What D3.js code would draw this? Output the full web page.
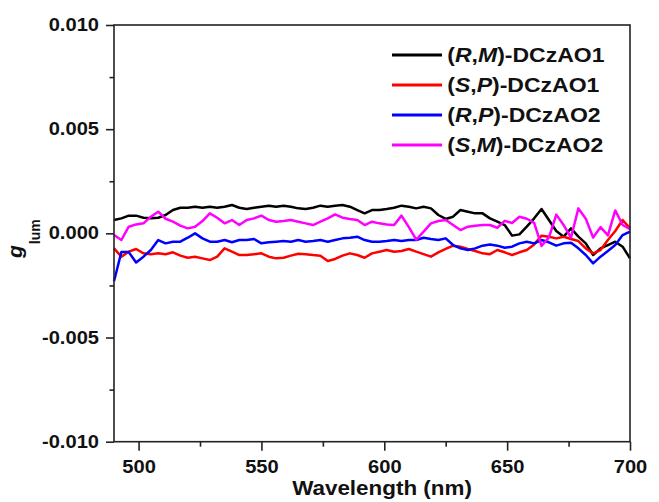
<html>
<head>
  <meta charset="UTF-8">
  <title>g_lum vs wavelength</title>
  <script src="https://d3js.org/d3.v7.min.js"></script>
  <style>
    body { margin: 0; background: white; }
    text { font-family: "Liberation Sans", Arial, sans-serif; font-weight: bold; fill: #111; }
  </style>
</head>
<body>
<svg></svg>
<script>

    // Data, wavelength in nm, 3 nm steps
    const wavelength = [490, 493, 496, 499, 502, 505, 508, 511, 514, 517, 520, 523, 526, 529, 532, 535, 538, 541,
                        544, 547, 550, 553, 556, 559, 562, 565, 568, 571, 574, 577, 580, 583, 586, 589, 592, 595,
                        598, 601, 604, 607, 610, 613, 616, 619, 622, 625, 628, 631, 634, 637, 640, 643, 646, 649,
                        652, 655, 658, 661, 664, 667, 670, 673, 676, 679, 682, 685, 688, 691, 694, 697, 700];

    const rmDCzAO1 = [0.00064, 0.00072, 0.00085, 0.00085, 0.00075, 0.00072, 0.00075, 0.00088, 0.00112, 0.00123, 0.00123, 0.00128, 0.00123, 0.00128, 0.00123, 0.00128, 0.00136, 0.00123,
                      0.00117, 0.00123, 0.00128, 0.00133, 0.00128, 0.00133, 0.00128, 0.0012, 0.00117, 0.00123, 0.00133, 0.00128, 0.00133, 0.00136, 0.00128, 0.00112, 0.00096, 0.00112,
                      0.00112, 0.00117, 0.00123, 0.00133, 0.00128, 0.0012, 0.00128, 0.0012, 0.00088, 0.00069, 0.0008, 0.00112, 0.00104, 0.00096, 0.00096, 0.00072, 0.00056, 0.0004,
                      -0.00011, -0.00005, 0.00032, 0.00072, 0.00117, 0.00064, 0.00011, -0.00016, 0.00024, -0.00016, -0.00048, -0.00104, -0.00072, -0.00056, -0.0004, -0.00064, -0.0012];

    const spDCzAO1 = [-0.00072, -0.00112, -0.00088, -0.00075, -0.00096, -0.001, -0.00096, -0.001, -0.00091, -0.00107, -0.00117, -0.00112, -0.0012, -0.00128, -0.00112, -0.00072, -0.00088, -0.00104,
                      -0.00104, -0.001, -0.00096, -0.00112, -0.0012, -0.00117, -0.00107, -0.00098, -0.001, -0.00104, -0.00107, -0.00133, -0.00123, -0.00107, -0.00096, -0.00104, -0.00117, -0.00096,
                      -0.00088, -0.0008, -0.00088, -0.00085, -0.00075, -0.00088, -0.001, -0.00112, -0.00091, -0.00075, -0.00059, -0.00064, -0.00075, -0.00085, -0.00096, -0.001, -0.0008, -0.00091,
                      -0.00104, -0.00091, -0.0008, -0.00053, -0.00011, -0.00016, -0.00024, -0.00016, -0.00027, -0.00037, -0.00072, -0.00096, -0.0008, -0.00032, 0.00011, 0.00064, 0.00024];

    const rpDCzAO2 = [-0.0023, -0.0009, -0.0009, -0.0014, -0.00112, -0.0008, -0.00032, -0.00048, -0.0004, -0.0004, -0.00021, 0, -0.00024, -0.0004, -0.0004, -0.00032, -0.00043, -0.00032,
                      -0.00032, -0.00027, -0.00048, -0.00043, -0.0004, -0.00037, -0.0004, -0.00032, -0.0004, -0.00037, -0.00032, -0.0004, -0.00032, -0.00024, -0.00021, -0.00016, -0.00032, -0.0004,
                      -0.0004, -0.00037, -0.00032, -0.00037, -0.00032, -0.00032, -0.00021, -0.00027, -0.00032, -0.00024, -0.00056, -0.00072, -0.0008, -0.00072, -0.00059, -0.00053, -0.00059, -0.00069,
                      -0.00064, -0.00048, -0.0004, -0.00048, -0.00032, -0.00043, -0.00059, -0.00048, -0.00045, -0.00072, -0.00104, -0.00144, -0.00112, -0.00085, -0.00056, -0.00008, 0.00008];

    const smDCzAO2 = [-0.00008, -0.00032, 0.00032, 0.00043, 0.00048, 0.0008, 0.00104, 0.0007, 0.00056, 0.00037, 0.00024, 0.00032, 0.00059, 0.00096, 0.00075, 0.00048, 0.00064, 0.0004,
                      0.00064, 0.00072, 0.00085, 0.00064, 0.00056, 0.00059, 0.00064, 0.00056, 0.00048, 0.0004, 0.00056, 0.00072, 0.00091, 0.00075, 0.00069, 0.00064, 0.0004, 0.00056,
                      0.00048, 0.00043, 0.0004, 0.00085, 0.0003, -0.0003, 0.00008, 0.00048, 0.00059, 0.00064, 0.0004, 0.00016, 0.00032, 0.00037, 0.0004, 0.0004, 0.00027, 0.0006,
                      0.0005, 0.0008, 0.0007, 0.0005, -0.0006, -0.0002, 0.0009, 0.0004, -0.0002, 0.0012, 0.0007, -0.0002, 0.0003, -0.0001, 0.0011, 0.0004, 0.0002];

    const seriesNames = [["(", "R", ",", "M", ")-DCzAO1"],
                         ["(", "S", ",", "P", ")-DCzAO1"],
                         ["(", "R", ",", "P", ")-DCzAO2"],
                         ["(", "S", ",", "M", ")-DCzAO2"]];
    const seriesValues = [rmDCzAO1, spDCzAO1, rpDCzAO2, smDCzAO2];
    const seriesColors = ["#000000", "#ff0000", "#0000ff", "#ff00ff"];

    const xTicks = [500, 550, 600, 650, 700];
    const xMinorTicks = [525, 575, 625, 675];
    const yTicks = [-0.010, -0.005, 0.000, 0.005, 0.010];
    const yTickLabels = ["-0.010", "-0.005", "0.000", "0.005", "0.010"];
    const yMinorTicks = [-0.0075, -0.0025, 0.0025, 0.0075];

    // Setup

    const width = 659;
    const height = 502;
    const margins = { top: 25, right: 29, bottom: 60.3, left: 114 };

    const chartWidth = width - margins.left - margins.right;
    const chartHeight = height - margins.top - margins.bottom;

    // the picture is a bit stretched sideways, so is the text
    const stretch = 1.15;

    let svg = d3.select("svg")
                .attr("width", width)
                .attr("height", height);

    let chartArea = svg.append("g").attr("transform", `translate(${margins.left}, ${margins.top})`);

    // Scales

    const xScale = d3.scaleLinear().domain([490, 700]).range([0, chartWidth]);
    const yScale = d3.scaleLinear().domain([-0.010, 0.010]).range([chartHeight, 0]);

    // Lines

    const line = d3.line()
                   .x((d, i) => xScale(wavelength[i]))
                   .y(d => yScale(d));

    seriesValues.forEach((values, i) => {
        chartArea.append("path")
                 .attr("d", line(values))
                 .attr("fill", "none")
                 .attr("stroke", seriesColors[i])
                 .attr("stroke-width", 2.5)
                 .attr("stroke-linejoin", "round");
    });

    // Frame

    chartArea.append("rect")
             .attr("width", chartWidth)
             .attr("height", chartHeight)
             .attr("fill", "none")
             .attr("stroke", "#222")
             .attr("stroke-width", 1.6);

    // Axes

    let leftAxis = d3.axisLeft(yScale).tickValues(yTicks).tickSize(8)
                     .tickFormat((d, i) => yTickLabels[i]);
    let yAxis = chartArea.append("g").attr("class", "y axis").call(leftAxis);

    let leftMinor = d3.axisLeft(yScale).tickValues(yMinorTicks).tickSize(4.5).tickFormat("");
    let yMinor = chartArea.append("g").attr("class", "y minor").call(leftMinor);

    let bottomAxis = d3.axisBottom(xScale).tickValues(xTicks).tickSize(9).tickPadding(10);
    let xAxis = chartArea.append("g").attr("class", "x axis")
                         .attr("transform", `translate(0, ${chartHeight})`)
                         .call(bottomAxis);

    let bottomMinor = d3.axisBottom(xScale).tickValues(xMinorTicks).tickSize(5).tickFormat("");
    let xMinor = chartArea.append("g").attr("class", "x minor")
                          .attr("transform", `translate(0, ${chartHeight})`)
                          .call(bottomMinor);

    [yAxis, yMinor, xAxis, xMinor].forEach(g => {
        g.select(".domain").remove();
        g.selectAll("line").attr("stroke", "#222").attr("stroke-width", 1.6);
    });

    yAxis.selectAll("text")
         .attr("x", -15 / stretch)
         .attr("transform", `scale(${stretch}, 1)`)
         .style("font-size", "17.5px")
         .style("font-family", "'Liberation Sans', Arial, sans-serif")
         .style("font-weight", "bold")
         .attr("fill", "#111");

    xAxis.selectAll("text")
         .attr("transform", `scale(${stretch}, 1)`)
         .style("font-size", "17.5px")
         .style("font-family", "'Liberation Sans', Arial, sans-serif")
         .style("font-weight", "bold")
         .attr("fill", "#111");

    // Axis titles

    svg.append("text")
       .attr("transform", `translate(382, 495) scale(${stretch}, 1)`)
       .attr("text-anchor", "middle")
       .style("font-size", "19.5px")
       .text("Wavelength (nm)");

    let yTitle = svg.append("text")
                    .attr("transform", "translate(22, 258) rotate(-90)")
                    .style("font-size", "21px");
    yTitle.append("tspan").style("font-style", "italic").text("g");
    yTitle.append("tspan").attr("dy", 18).attr("dx", 1).style("font-size", "14px").text("lum");

    // Legend

    const legend = svg.append("g").attr("transform", "translate(392, 55)");

    seriesNames.forEach((parts, i) => {
        let row = legend.append("g").attr("transform", `translate(0, ${i * 30})`);
        row.append("line")
           .attr("x1", 0).attr("x2", 50)
           .attr("stroke", seriesColors[i])
           .attr("stroke-width", 2.8);
        let label = row.append("text")
                       .attr("transform", `translate(55.3, 6.7) scale(1.18, 1)`)
                       .style("font-size", "19.5px");
        parts.forEach((p, j) => {
            label.append("tspan")
                 .style("font-style", (j === 1 || j === 3) ? "italic" : "normal")
                 .text(p);
        });
    });

</script>
</body>
</html>
